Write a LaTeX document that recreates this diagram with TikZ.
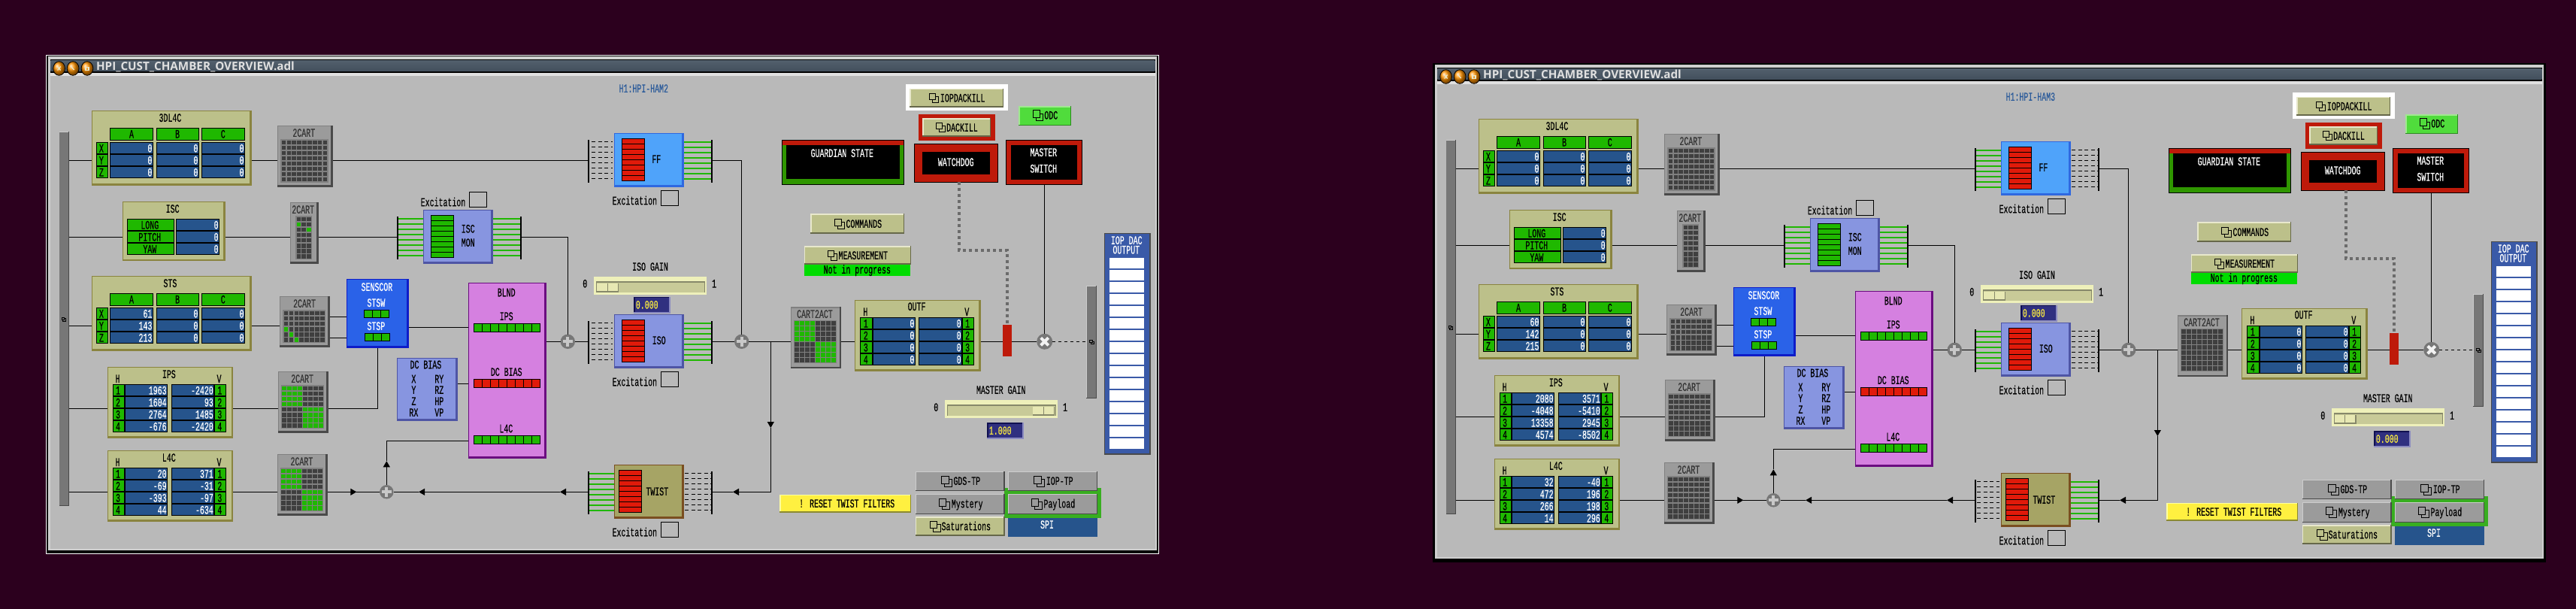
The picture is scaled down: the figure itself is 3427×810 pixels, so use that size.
\documentclass[tikz,border=0pt]{standalone}
\usepackage{fontspec}
\setmainfont{Liberation Mono}[FakeStretch=0.62,FakeBold=0.35]
\newfontfamily\ttlfont{Open Sans}
\usetikzlibrary{arrows.meta}
\definecolor{aub}{HTML}{2C001E}
\definecolor{panelbg}{HTML}{B9B9B9}
\definecolor{edgeL}{HTML}{CFCFCF}
\definecolor{cgreen}{HTML}{1FB800}
\definecolor{cblue}{HTML}{26548C}
\definecolor{cred}{HTML}{E01A0A}
\definecolor{dred}{HTML}{BE1A0A}
\definecolor{gstate}{HTML}{2F9600}
\definecolor{khaki}{HTML}{BCC08A}
\definecolor{khakiE}{HTML}{8A843F}
\definecolor{khakiL}{HTML}{E8E8CC}
\definecolor{khakiD}{HTML}{66684A}
\definecolor{gr}{HTML}{9B9B9B}
\definecolor{grT}{HTML}{808080}
\definecolor{grD}{HTML}{4A4A4A}
\definecolor{grL}{HTML}{CCCCCC}
\definecolor{lav}{HTML}{8795E0}
\definecolor{lavE}{HTML}{4E55A5}
\definecolor{sky}{HTML}{4FA3FA}
\definecolor{skyE}{HTML}{2F68E0}
\definecolor{olive}{HTML}{A6A465}
\definecolor{oliveE}{HTML}{7A4E20}
\definecolor{scB}{HTML}{2A62E8}
\definecolor{scE}{HTML}{0E1CC8}
\definecolor{pink}{HTML}{D580E0}
\definecolor{pinkE}{HTML}{6B0C80}
\definecolor{odcF}{HTML}{50DC3C}
\definecolor{odcL}{HTML}{A0E890}
\definecolor{odcD}{HTML}{2C8A20}
\definecolor{yel}{HTML}{FFF040}
\definecolor{yelL}{HTML}{FFFFA0}
\definecolor{yelD}{HTML}{8C8A30}
\definecolor{dacF}{HTML}{3A5AA8}
\definecolor{frameG}{HTML}{38AE20}
\definecolor{slL}{HTML}{EEF0BA}
\definecolor{slT}{HTML}{C8CA98}
\definecolor{slD}{HTML}{86886A}
\definecolor{vF}{HTML}{303080}
\definecolor{vL}{HTML}{8A8AC0}
\definecolor{vD}{HTML}{101050}
\definecolor{vY}{HTML}{F5E642}
\definecolor{hb}{HTML}{2A5A9A}
\definecolor{sumG}{HTML}{777777}
\definecolor{sumP}{HTML}{C8C8C8}
\definecolor{barT}{HTML}{525F6C}
\definecolor{barB}{HTML}{424F5C}
\definecolor{nipG}{HTML}{00DC00}
\tikzset{
  lbl/.style={font=\fontsize{16}{18}\selectfont,inner sep=0,outer sep=0,text height=10.5pt,text depth=0pt},
  rect/.style={rectangle,anchor=north west,inner sep=0,outer sep=0},
  ln/.style={draw=black,line width=1pt},
  arr/.style={ln,-{Triangle[length=8pt,width=9pt]}},
  fanG/.style={draw=cgreen,line width=2pt},
  fanD/.style={draw=black,line width=1pt,dash pattern=on 5pt off 3.5pt},
  dotw/.style={draw=sumG!90!black,line width=4pt,dash pattern=on 4pt off 4pt},
  dashc/.style={draw=black,line width=1pt,dash pattern=on 4pt off 4pt},
  sumc/.style={circle,fill=sumG,inner sep=0,outer sep=0},
  cross/.style={draw=sumP,line width=4pt},
  icon/.style={draw=black,line width=1pt},
}
\newcount\uid
\newcommand\tlab[4][black]{\global\advance\uid by 1 \node[lbl,text=#1] (t\the\uid) at (#2,#3) {#4};}
\newcommand\tlabR[4][white]{\global\advance\uid by 1 \node[lbl,anchor=east,text=#1] (t\the\uid) at (#2,#3) {#4};}
\newcommand\rn[6][]{\pgfmathsetmacro\rw{#5-(#3)}\pgfmathsetmacro\rh{#6-(#4)}%
  \node[rect,minimum width=\rw pt,minimum height=\rh pt,#1] (#2) at (#3,#4) {};}
\newcommand\cl[6]{\rn[fill=#6,draw=black,line width=1pt]{#1}{#2+.5}{#3+.5}{#4-.5}{#5-.5}}
\newcommand\pal[5]{\def\pf{#1}\def\ptl{#2}\def\pbr{#3}\def\ptw{#4}\def\pbw{#5}}
\newcommand\bev[6]{#6\rn[fill=\pbr]{#1}{#2}{#3}{#4}{#5}%
  \fill[\ptl] (#2,#3) rectangle (#4-\pbw,#5-\pbw);
  \fill[\pf] (#2+\ptw,#3+\ptw) rectangle (#4-\pbw,#5-\pbw);}
\newcommand\palK{\pal{khaki}{khakiE}{khakiE}{1}{2.5}}
\newcommand\palG{\pal{gr}{grT}{grD}{1.2}{2.5}}
\newcommand\palL{\pal{lav}{lavE}{lavE}{1}{2.7}}
\newcommand\palS{\pal{sky}{skyE}{skyE}{1}{2.7}}
\newcommand\palO{\pal{olive}{oliveE}{oliveE}{1}{2.7}}
\newcommand\palC{\pal{scB}{scE}{scE}{1}{2.5}}
\newcommand\palP{\pal{pink}{pinkE}{pinkE}{1}{2.7}}
\newcommand\palBK{\pal{khaki}{khakiL}{khakiD}{1.3}{1.3}}
\newcommand\palBG{\pal{gr}{grL}{grD}{1.3}{1.3}}
\newcommand\palBO{\pal{odcF}{odcL}{odcD}{1.3}{1.3}}
\newcommand\palBY{\pal{yel}{yelL}{yelD}{1.3}{1.5}}
\newcommand\palD{\pal{dacF}{grD}{grD}{1}{2.5}}
\newcommand\palV{\pal{vF}{vD}{vL}{1.2}{1.8}}
\newcommand\icn[3]{%
  \draw[icon] (#1,#2) rectangle (#1+.68*#3,#2+.68*#3);
  \draw[icon] (#1+.68*#3,#2+.32*#3) -- (#1+#3,#2+.32*#3) -- (#1+#3,#2+#3) -- (#1+.32*#3,#2+#3) -- (#1+.32*#3,#2+.68*#3);}
\newcommand\fan[4]{\foreach \k in {0,...,7}{\draw[#1] (#2,#4+7*\k) -- (#3,#4+7*\k);}}
\newcommand\stack[4]{\foreach \k in {0,...,7}{\filldraw[fill=#4,draw=black,line width=1pt] (#1+.5,#2+.5+7*\k) rectangle (#1+#3-.5,#2+.5+7*\k+7);}}
\newcommand\leds[6]{\foreach \k in {1,...,#3}{\pgfmathsetmacro\lx{#1+.5+(\k-1)*#4}\filldraw[fill=#6,draw=black,line width=1pt] (\lx,#2+.5) rectangle (\lx+#4,#2+#5-.5);}}
\newcommand\gridc[7]{%
  \rn[fill=grT]{#1}{#2}{#3}{#4}{#5}%
  \pgfmathsetmacro\gpx{(#4-(#2)-1.4)/#6}\pgfmathsetmacro\gpy{(#5-(#3)-1.4)/#7}\def\gx{#2}\def\gy{#3}%
  \foreach \i in {1,...,#6}{\foreach \j in {1,...,#7}{\fill[grD!85!black] (\gx+1.4+\gpx*\i-\gpx,\gy+1.4+\gpy*\j-\gpy) rectangle (\gx+\gpx*\i,\gy+\gpy*\j);}}}
\newcommand\gc[2]{\pgfmathsetmacro\gcx{\gx+\gpx*(#1)}\pgfmathsetmacro\gcy{\gy+\gpy*(#2)}\fill[cgreen] (\gcx+1.4,\gcy+1.4) rectangle (\gcx+\gpx,\gcy+\gpy);}
\newcommand\gq{\foreach \i in {0,...,3}{\foreach \j in {0,...,3}{\gc{\i}{\j}\gc{\i+4}{\j+4}}}}
\newcommand\tcol[4]{%
  \bev{#1}{122.1}{#3}{334.6}{#3+99.4}{\palK}\tlab{226.4}{#3+9.4}{#2}
  \foreach \h/\a/\b in {A/146.4/203.6,B/207.5/264.6,C/268.2/325.7}{\cl{#1h\h}{\a}{#3+23}{\b}{#3+39.4}{cgreen}\tlab{\a+28.6}{#3+31}{\h}}
  \foreach \r [count=\n from 0] in {X,Y,Z}{\cl{#1r\r}{127.5}{#3+42+16*\n}{143.6}{#3+58+16*\n}{cgreen}\tlab{134.9}{#3+50+16*\n}{\r}}
  \edef\tmplA{#4}%
  \foreach \v [count=\n from 0] in \tmplA {\cl{#1a\n}{146.4}{#3+42+16*\n}{203.6}{#3+58+16*\n}{cblue}\tlabR{202.4}{#3+50+16*\n}{\v}
    \cl{#1b\n}{207.5}{#3+42+16*\n}{264.6}{#3+58+16*\n}{cblue}\tlabR{263.4}{#3+50+16*\n}{0}
    \cl{#1c\n}{268.2}{#3+42+16*\n}{325.7}{#3+58+16*\n}{cblue}\tlabR{324.5}{#3+50+16*\n}{0}}}
\newcommand\hvtab[7]{%
  \def\ga{7}\def\gb{23.3}\def\gcc{80.6}\def\gd{85}\def\ge{142.3}\def\gf{158.3}\def\gw{167.5}\def\gt{82.3}\def\gh{14}\def\gv{149}%
  \bev{#1}{#3}{#4}{#3+\gw}{#4+94.4}{\palK}\tlab{#3+\gt}{#4+#5}{#2}\tlab{#3+\gh}{#4+15.5}{H}\tlab{#3+\gv}{#4+15.5}{V}
  \edef\tmplH{#6}\edef\tmplV{#7}%
  \foreach \v [count=\n from 0] in \tmplH {\pgfmathtruncatemacro\m{\n+1}\cl{#1L\n}{#3+\ga}{#4+23+16*\n}{#3+\gb}{#4+39+16*\n}{cgreen}\tlab{#3+\ga+7.5}{#4+31+16*\n}{\m}
    \cl{#1A\n}{#3+\gb}{#4+23+16*\n}{#3+\gcc}{#4+39+16*\n}{cblue}\tlabR{#3+\gcc-1.5}{#4+31+16*\n}{\v}}
  \foreach \v [count=\n from 0] in \tmplV {\pgfmathtruncatemacro\m{\n+1}\cl{#1B\n}{#3+\gd}{#4+23+16*\n}{#3+\ge}{#4+39+16*\n}{cblue}\tlabR{#3+\ge-1}{#4+31+16*\n}{\v}
    \cl{#1R\n}{#3+\ge}{#4+23+16*\n}{#3+\gf}{#4+39+16*\n}{cgreen}\tlab{#3+\ge+7.5}{#4+31+16*\n}{\m}}}
\newcommand\cart[5]{\bev{#1}{#2}{#3}{#4}{#5}{\palG}}
\newcommand\slid[4]{%
  \rn[fill=slL]{#1}{#2}{#3}{#2+150}{#3+23.7}%
  \fill[slD] (#2+2.7,#3+6) rectangle (#2+148,#3+21.3);
  \fill[slT] (#2+4,#3+7.5) rectangle (#2+147.3,#3+20.5);
  \fill[slD] (#2+#4,#3+8.7) rectangle (#2+#4+29,#3+20.5);
  \fill[slL!80!slT] (#2+#4,#3+8.7) rectangle (#2+#4+27.7,#3+19.3);
  \fill[slD] (#2+#4+13.5,#3+8.7) rectangle (#2+#4+14.3,#3+19.3);}
\newcommand\valb[4]{\bev{#1}{#2}{#3}{#2+48.4}{#3+21.7}{\palV}\tlab[vY]{#2+17.4}{#3+10.4}{#4}}
\newcommand\excit[3]{\tlab{844.3}{#2}{Excitation}\rn[draw=black,line width=1pt]{#1}{879.8}{#3+.5}{902.2}{#3+20}}

\newcommand\drawpanel{%
  \fill[\frm] (61.4,73.3) rectangle (1541.7,737);
  \fill[black] (62.4,74.3) rectangle (1540.7,736);
  \fill[edgeL] (63.6,75) rectangle (1539,732);
  \fill[black] (67,78.6) rectangle (1537,96.7);
  \shade[top color=barT,bottom color=barB] (67.5,80.7) rectangle (1536.3,95);
  \fill[black!12] (67,96.7) rectangle (1537,100.7);
  \fill[panelbg] (67,100.7) rectangle (1537,730);
  \foreach \x in {78.6,97.1,116}{\shade[ball color=orange!85!yellow] (\x,91) ellipse (7.9 and 9.3); \draw[black,line width=.8pt] (\x,91) ellipse (7.9 and 9.3);}
  \draw[khakiL,line width=1.3pt] (76.6,88.5) -- (80.6,93.5) (76.6,93.5) -- (80.6,88.5);
  \draw[khakiL,line width=1.3pt] (95.1,89) -- (98.6,93);
  \draw[khakiL,line width=1.2pt] (114,89.5) rectangle (118,93.5);
  \node[text=black!12,font=\ttlfont\bfseries\fontsize{15.2}{18}\selectfont,anchor=west,inner sep=0] (ttl) at (127.9,89) {HPI\_CUST\_CHAMBER\_OVERVIEW.adl};
  \tlab[hb]{856.3}{117.7}{\hamname}
  \bev{lbar}{78.6}{175}{91.8}{673.3}{\pal{sumG}{grL}{grD}{.6}{1.2}}\icn{82}{422}{5.4}
  \tcol{dl}{3DL4C}{147.3}{0,0,0}
  \tcol{sts}{STS}{367.3}{\stsvals}
  \bev{isc}{163.2}{268.3}{299.6}{347.3}{\palK}\tlab{229.6}{277.7}{ISC}
  \foreach \r [count=\n from 0] in {LONG,PITCH,YAW}{\cl{iscL\n}{169.3}{291.3+16*\n}{232.1}{307.3+16*\n}{cgreen}\tlab{199.3}{299.3+16*\n}{\r}
    \cl{iscV\n}{234.3}{291.3+16*\n}{292.1}{307.3+16*\n}{cblue}\tlabR{290.6}{299.3+16*\n}{0}}
  \hvtab{ips}{IPS}{142.5}{488.3}{9.4}{\ipsH}{\ipsV}
  \hvtab{lfc}{L4C}{142.5}{599.3}{9.4}{\lfH}{\lfV}
  \cart{c1}{368.9}{167.3}{442.9}{248.7}\tlab[black!80]{404.3}{176.7}{2CART}\gridc{c1g}{373.2}{185.3}{436.8}{242.7}{9}{8}
  \cart{c2}{386}{269.3}{423.6}{350.7}\tlab[black!80]{403.2}{278.7}{2CART}\gridc{c2g}{393.2}{287.3}{415}{345}{3}{8}
  \ifnum\pv=1 \gc{0}{1}\gc{2}{2}\fi
  \cart{c3}{372.1}{394}{438.6}{461.7}\tlab[black!80]{405}{403.7}{2CART}\gridc{c3g}{376.4}{412.3}{432.9}{456}{8}{6}
  \ifnum\pv=1 \gc{0}{3}\gc{1}{4}\gc{2}{5}\fi
  \cart{c4}{370}{494}{436.8}{575.7}\tlab[black!80]{402.1}{503.7}{2CART}\gridc{c4g}{373.9}{512.3}{431.1}{570}{8}{8}
  \ifnum\pv=1 \gq\fi
  \cart{c5}{368.9}{604}{435.7}{685.7}\tlab[black!80]{401.4}{613.7}{2CART}\gridc{c5g}{372.9}{622.3}{430}{680}{8}{8}
  \ifnum\pv=1 \gq\fi
  \cart{cta}{1052}{408.3}{1119}{490}\tlab[black!80]{1084}{417.7}{CART2ACT}\gridc{ctag}{1056}{425.7}{1113.3}{483.3}{8}{8}
  \ifnum\pv=1 \gq\fi
  \bev{mon}{563.3}{279}{656}{350.7}{\palL}\stack{573.2}{286.3}{30.4}{cgreen}
  \tlab{622.7}{304.3}{ISC}\tlab{622.7}{322.7}{MON}
  \rn[fill=black]{monL}{527.9}{288}{529.9}{345}\rn[fill=black]{monR}{692}{288}{694}{345}
  \fan{fanG}{529.9}{563.3}{290.7}\fan{fanG}{656}{692}{290.7}
  \tlab{589.5}{269}{Excitation}\rn[draw=black,line width=1pt]{monX}{624.8}{255.8}{647.2}{275.2}
  \bev{sc}{461.4}{371.3}{543.6}{462.7}{\palC}
  \tlab[white]{501.4}{381.7}{SENSCOR}\tlab[white]{500.4}{402.7}{STSW}\tlab[white]{500.4}{433.7}{STSP}
  \leds{484.3}{411.7}{3}{10.9}{11}{cgreen}\leds{485.4}{442.7}{3}{10.9}{11}{cgreen}
  \bev{dcb}{527.5}{476.3}{608.9}{559.7}{\palL}\tlab{566.4}{485}{DC BIAS}
  \foreach \a/\b/\y in {X/RY/504,Y/RZ/518.7,Z/HP/533.7,RX/VP/548.7}{\tlab{550.4}{\y}{\a}\tlab{584.3}{\y}{\b}}
  \bev{bl}{623.3}{376.3}{726.7}{609.7}{\palP}
  \tlab{673.7}{389}{BLND}\tlab{673.7}{420.7}{IPS}\tlab{673.7}{494.7}{DC BIAS}\tlab{673.3}{570}{L4C}
  \leds{630}{430}{8}{11}{12}{cgreen}\leds{630}{504}{8}{11}{12}{cred}\leds{630}{579}{8}{11}{12}{cgreen}
  \bev{ff}{817.3}{177}{910}{248.7}{\palS}\stack{827.3}{184.3}{30.4}{cred}\tlab{873.3}{211.7}{FF}
  \rn[fill=black]{ffL}{782}{186}{784}{242.7}\rn[fill=black]{ffR}{946}{186}{948}{242.7}
  \excit{ffX}{267}{253.3}
  \bev{iso}{817.3}{418.3}{910}{489.7}{\palL}\stack{827.3}{425.3}{30.4}{cred}\tlab{876.7}{452.7}{ISO}
  \rn[fill=black]{isoL}{782}{427}{784}{484}\rn[fill=black]{isoR}{946}{427}{948}{484}
  \excit{isoX}{508}{494.3}
  \bev{tw}{817.3}{618.3}{910}{689.7}{\palO}\stack{823.3}{625.3}{30.4}{cred}\tlab{874.3}{653.7}{TWIST}
  \rn[fill=black]{twL}{782}{627}{784}{684}\rn[fill=black]{twR}{946}{627}{948}{684}
  \excit{twX}{708}{694.3}
  \ifnum\pv=1
    \fan{fanD}{787}{815}{188.3}\fan{fanG}{910}{946}{188.8}
    \fan{fanD}{787}{815}{429.3}\fan{fanG}{910}{946}{429.8}
    \fan{fanG}{784}{817.3}{630}\fan{fanD}{911}{946}{629.3}
  \else
    \fan{fanG}{784}{817.3}{188.8}\fan{fanD}{911}{946}{188.3}
    \fan{fanG}{784}{817.3}{429.8}\fan{fanD}{911}{946}{429.3}
    \fan{fanD}{785}{815}{629.3}\fan{fanG}{910}{946}{630}
  \fi
  \tlab{865}{354.7}{ISO GAIN}\slid{isoS}{790}{368}{4}\tlab{778.3}{377.3}{0}\tlab{950}{377.3}{1}
  \valb{isoV}{843.3}{395}{0.000}
  \rn[fill=white]{iopF}{1205}{112}{1341}{146.7}
  \bev{iop}{1210.3}{118}{1335}{142.7}{\palBK}\icn{1236}{124.3}{12.7}\tlab{1280.7}{130.3}{IOPDACKILL}
  \rn[fill=dred]{dacF}{1222}{152}{1324}{187}
  \bev{dac}{1227.3}{157.3}{1318}{181.7}{\palBK}\icn{1245}{163.3}{12.7}\tlab{1280}{169.7}{DACKILL}
  \bev{odc}{1355.3}{141.3}{1425}{167}{\palBO}\icn{1374.3}{147}{13.3}\tlab{1398.3}{153.3}{ODC}
  \rn[fill=gstate,draw=black,line width=1pt]{gd}{1040.8}{186.8}{1202.2}{245.2}
  \fill[dred] (1041.3,187.3) rectangle (1201.7,193);
  \fill[black] (1046,193) rectangle (1197,238);\tlab[white]{1120.3}{203.7}{GUARDIAN STATE}
  \rn[fill=dred,draw=black,line width=1pt]{wd}{1216.8}{191.8}{1327.2}{242.2}
  \fill[black] (1227,202) rectangle (1317,232);\tlab[white]{1271.7}{215.7}{WATCHDOG}
  \rn[fill=dred,draw=black,line width=1pt]{ms}{1338.8}{186.8}{1439.2}{245.2}
  \fill[black] (1345,193) rectangle (1433,239);\tlab[white]{1388.3}{202.7}{MASTER}\tlab[white]{1388.3}{224.3}{SWITCH}
  \bev{cmd}{1078.3}{284.3}{1203}{310.7}{\palBK}\icn{1110}{291.3}{13.3}\tlab{1149.3}{297.7}{COMMANDS}
  \bev{msr}{1070}{327.3}{1212}{351.7}{\palBK}\icn{1101}{333.3}{12.7}\tlab{1148.3}{339.7}{MEASUREMENT}
  \rn[fill=nipG]{nip}{1070}{351.7}{1211}{366.7}\tlab{1140.3}{358.5}{Not in progress}
  \hvtab{outf}{OUTF}{1137.3}{399.3}{8.4}{0,0,0,0}{0,0,0,0}
  \rn[fill=dred]{rb}{1334}{432}{1346}{474}
  \bev{rbar}{1445}{380}{1459}{529.7}{\pal{sumG}{grL}{grD}{1}{1.2}}\icn{1449.7}{452.3}{5.4}
  \tlab{1331.7}{518.7}{MASTER GAIN}\slid{mstS}{1257}{532}{\thumbm}\tlab{1245.3}{541.7}{0}\tlab{1417}{541.7}{1}
  \valb{mstV}{1313.3}{562.3}{\mval}
  \bev{dacout}{1469.3}{310}{1531}{605}{\palD}\tlab[white]{1498.7}{319.7}{IOP DAC}\tlab[white]{1498.3}{332.3}{OUTPUT}
  \foreach \n in {0,...,15}{\fill[white] (1476,343.3+16*\n) rectangle (1522,357.3+16*\n);}
  \bev{rst}{1037.3}{658}{1212}{681.7}{\palBY}\tlab{1126.7}{669.7}{! RESET TWIST FILTERS}
  \rn[fill=frameG]{plF}{1335.7}{649}{1465}{689}
  \bev{gds}{1217.7}{626.7}{1336.7}{653.3}{\palBG}\icn{1252.3}{633.3}{14.3}\tlab{1286.3}{639.7}{GDS-TP}
  \bev{ioptp}{1340.7}{626.7}{1460}{653.3}{\palBG}\icn{1375.3}{633.3}{14.3}\tlab{1409.7}{639.7}{IOP-TP}
  \bev{mys}{1217.7}{656.7}{1336.7}{684}{\palBG}\icn{1249}{663.3}{14.3}\tlab{1286.7}{670}{Mystery}
  \bev{pay}{1340.7}{656.7}{1460}{684}{\palBG}\icn{1372}{663.3}{14.3}\tlab{1409.3}{670}{Payload}
  \bev{sat}{1217.7}{687.3}{1336.7}{712.7}{\palBK}\icn{1237}{693.3}{14}\tlab{1285.3}{700}{Saturations}
  \rn[fill=cblue]{spi}{1341}{689}{1460}{714}\tlab[white]{1393}{697.7}{SPI}
  \node[sumc,minimum size=18.5pt] (s1) at (514.3,654.3) {};
  \node[sumc,minimum size=19.4pt] (s2) at (755.3,454.3) {};
  \node[sumc,minimum size=19.4pt] (s3) at (986.7,454.3) {};
  \node[sumc,minimum size=21pt] (mx) at (1389.7,454.3) {};
  \foreach \s in {s1,s2,s3}{\draw[cross] ([xshift=-6.5pt]\s.center) -- ([xshift=6.5pt]\s.center) ([yshift=-6.5pt]\s.center) -- ([yshift=6.5pt]\s.center);}
  \draw[cross,draw=white!90!gray] ([shift={(-5pt,-5pt)}]mx.center) -- ([shift={(5pt,5pt)}]mx.center) ([shift={(-5pt,5pt)}]mx.center) -- ([shift={(5pt,-5pt)}]mx.center);
  \coordinate (yA) at (0,213.3);\coordinate (yB) at (0,315.3);\coordinate (yC) at (0,433.3);
  \coordinate (yD) at (0,543.3);\coordinate (yE) at (0,654.3);\coordinate (yS) at (0,454.3);
  \coordinate (yU) at (0,586.7);\coordinate (yW) at (0,421.3);\coordinate (yX) at (0,449.3);
  \coordinate (yP) at (0,435.3);\coordinate (yQ) at (0,510.3);
  \coordinate (jn) at (1025.3,454.3);\coordinate (aD) at (1025.3,569);\coordinate (aL) at (975,654.3);
  \coordinate (aT) at (745,654.3);\coordinate (aM) at (557.1,654.3);\coordinate (aR) at (474.3,654.3);\coordinate (aU) at (514.3,613.3);
  \coordinate (wc) at (1276,333);\coordinate (sd) at (502.5,543.3);
  \draw[ln] (lbar.east |- yA) -- (dl.west |- yA);
  \draw[ln] (dl.east |- yA) -- (c1.west |- yA);
  \draw[ln] (c1.east |- yA) -- (ffL.west |- yA);
  \draw[ln] (ffR.east |- yA) -| (s3.north);
  \draw[ln] (lbar.east |- yB) -- (isc.west |- yB);
  \draw[ln] (isc.east |- yB) -- (c2.west |- yB);
  \draw[ln] (c2.east |- yB) -- (monL.west |- yB);
  \draw[ln] (monR.east |- yB) -| (s2.north);
  \draw[ln] (lbar.east |- yC) -- (sts.west |- yC);
  \draw[ln] (sts.east |- yC) -- (c3.west |- yC);
  \draw[ln] (c3.east |- yW) -- (sc.west |- yW);
  \draw[ln] (c3.east |- yX) -- (sc.west |- yX);
  \draw[ln] (sc.east |- yP) -- (bl.west |- yP);
  \draw[ln] (lbar.east |- yD) -- (ips.west |- yD);
  \draw[ln] (ips.east |- yD) -- (c4.west |- yD);
  \draw[ln] (c4.east |- yD) -- (sd) -- (sd |- sc.south);
  \draw[ln] (dcb.east |- yQ) -- (bl.west |- yQ);
  \draw[ln] (lbar.east |- yE) -- (lfc.west |- yE);
  \draw[ln] (lfc.east |- yE) -- (c5.west |- yE);
  \draw[arr] (c5.east |- yE) -- (aR);
  \draw[ln] (aR) -- (s1.west);
  \draw[arr] (s1.north) -- (aU);
  \draw[ln] (aU) |- (bl.west |- yU);
  \draw[arr] (twL.west |- yE) -- (aT);
  \draw[arr] (aT) -- (aM);
  \draw[ln] (aM) -- (s1.east);
  \draw[ln] (bl.east |- yS) -- (s2.west);
  \draw[ln] (s2.east) -- (isoL.west |- yS);
  \draw[ln] (isoR.east |- yS) -- (s3.west);
  \draw[ln] (s3.east) -- (cta.west |- yS);
  \draw[arr] (jn) -- (aD);
  \draw[arr] (aD) |- (aL);
  \draw[ln] (aL) -- (twR.east |- yE);
  \draw[ln] (cta.east |- yS) -- (outf.west |- yS);
  \draw[ln] (outf.east |- yS) -- (rb.west |- yS);
  \draw[ln] (rb.east |- yS) -- (mx.west);
  \draw[ln] (ms.south -| mx) -- (mx.north);
  \draw[dashc] (mx.east) -- (rbar.west |- mx);
  \draw[dotw] (wc |- wd.south) -- (wc) -| (rb.north);
}
\begin{document}
\begin{tikzpicture}[x=1pt,y=-1pt]
\useasboundingbox (0,0) rectangle (3427,810);
\fill[aub] (0,0) rectangle (3427,810);
\begin{scope}[name prefix=a-]
  \def\frm{white}\def\pv{1}\def\hamname{H1:HPI-HAM2}
  \def\stsvals{61,143,213}
  \def\ipsH{1963,1604,2764,-676}\def\ipsV{-2420,93,1485,-2420}
  \def\lfH{20,-69,-393,44}\def\lfV{371,-31,-97,-634}
  \def\thumbm{117.3}\def\mval{1.000}
  \drawpanel
\end{scope}
\begin{scope}[name prefix=b-,shift={(1845,11)}]
  \def\frm{black}\def\pv{2}\def\hamname{H1:HPI-HAM3}
  \def\stsvals{60,142,215}
  \def\ipsH{2080,-4048,13358,4574}\def\ipsV{3571,-5410,2945,-8502}
  \def\lfH{32,472,266,14}\def\lfV{-40,196,198,296}
  \def\thumbm{3.5}\def\mval{0.000}
  \drawpanel
\end{scope}
\end{tikzpicture}
\end{document}
